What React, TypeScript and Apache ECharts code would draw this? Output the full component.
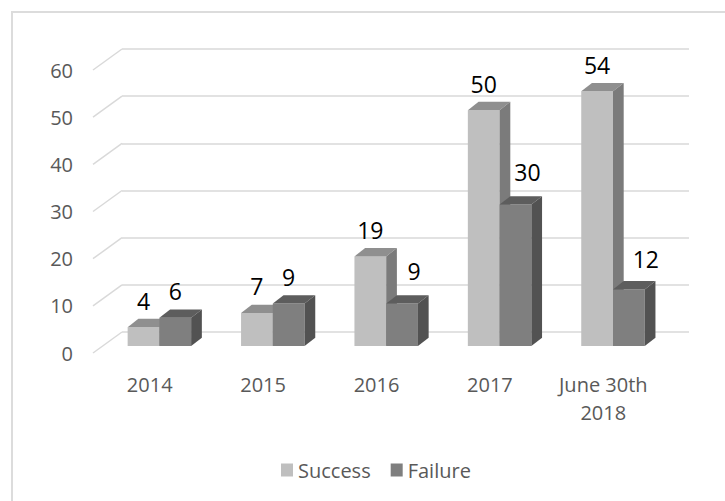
import React, { useEffect, useRef } from "react";
import * as echarts from "echarts";

// ---- data ----
const categories = ["2014", "2015", "2016", "2017", "June 30th\n2018"];
const success = [4, 7, 19, 50, 54];
const failure = [6, 9, 9, 30, 12];
const yTicks = [0, 10, 20, 30, 40, 50, 60];
const seriesNames = ["Success", "Failure"];

// ---- style (label nudges in px, not data) ----
const failureLabelNudge = [
  [0, 0],
  [0, 0],
  [12, -6.5],
  [12, -6.5],
  [17, -3.5],
];
const noNudge = [
  [0, 0],
  [0, 0],
  [0, 0],
  [0, 0],
  [0, 0],
];

const FONT = "'Open Sans', 'Noto Sans', sans-serif";
const AXIS_COLOR = "#595959";
const GRID_COLOR = "#d9d9d9";
// floor depth vector (back -> front)
const DX = -29;
const DY = 21;
// bar front-face offset from back plane
const FX = -19.3;
const FY = 14;
// bar depth (front -> back)
const BDX = 10.7;
const BDY = -8.3;
const BAR_FRAC = 0.28;

const faces = {
  success: { front: "#bfbfbf", top: "#8f8f8f", side: "#7b7b7b" },
  failure: { front: "#7f7f7f", top: "#5d5d5d", side: "#525252" },
};

function makeBarRender(isFail: boolean, f: any, nudges: number[][]) {
  return (params: any, api: any) => {
    const i = api.value(0);
    const v = api.value(1);
    const top = api.coord([i, v]);
    const base = api.coord([i, 0]);
    const band = api.size([1, 0])[0];
    const w = band * BAR_FRAC;
    const x0 = top[0] + FX + (isFail ? 0 : -w);
    const yT = top[1] + FY;
    const yB = base[1] + FY;
    const n = nudges[params.dataIndex] || [0, 0];
    return {
      type: "group",
      children: [
        {
          type: "rect",
          shape: { x: x0, y: yT, width: w, height: yB - yT },
          style: { fill: f.front },
        },
        {
          type: "polygon",
          shape: {
            points: [
              [x0, yT],
              [x0 + w, yT],
              [x0 + w + BDX, yT + BDY],
              [x0 + BDX, yT + BDY],
            ],
          },
          style: { fill: f.top },
        },
        {
          type: "polygon",
          shape: {
            points: [
              [x0 + w, yT],
              [x0 + w + BDX, yT + BDY],
              [x0 + w + BDX, yB + BDY],
              [x0 + w, yB],
            ],
          },
          style: { fill: f.side },
        },
        {
          type: "text",
          style: {
            text: String(v),
            x: x0 + w / 2 + n[0],
            y: yT - 26.5 + n[1],
            align: "center",
            verticalAlign: "middle",
            fontSize: 23,
            fontFamily: FONT,
            fill: "#000000",
          },
        },
      ],
    };
  };
}

function frameRender(params: any, api: any) {
  const v = api.value(1);
  const p = api.coord([0, v]);
  const band = api.size([1, 0])[0];
  const left = p[0] - band / 2;
  return {
    type: "group",
    children: [
      {
        type: "line",
        shape: { x1: left + DX, y1: p[1] + DY, x2: left, y2: p[1] },
        style: { stroke: GRID_COLOR, lineWidth: 1.5 },
      },
      {
        type: "text",
        style: {
          text: String(v),
          x: left + DX - 20,
          y: p[1] + DY,
          align: "right",
          verticalAlign: "middle",
          fontSize: 20,
          fontFamily: FONT,
          fill: AXIS_COLOR,
        },
      },
    ],
  };
}

export default function App() {
  const ref = useRef<HTMLDivElement>(null);
  useEffect(() => {
    if (!ref.current) return;
    const chart = echarts.init(ref.current, null, { renderer: "svg" });
    chart.setOption({
      animation: false,
      backgroundColor: "#ffffff",
      grid: { left: 122, right: 36, top: 49, bottom: 169 },
      xAxis: {
        type: "category",
        data: categories,
        axisLine: { show: false },
        axisTick: { show: false },
        splitLine: { show: false },
        axisLabel: {
          interval: 0,
          margin: 38,
          lineHeight: 28,
          padding: [0, 58, 0, 0],
          fontSize: 20,
          fontFamily: FONT,
          color: AXIS_COLOR,
        },
      },
      yAxis: {
        type: "value",
        min: 0,
        max: 60,
        interval: 10,
        axisLine: { show: false },
        axisTick: { show: false },
        axisLabel: { show: false },
        splitLine: { show: true, lineStyle: { color: GRID_COLOR, width: 1.5 } },
      },
      legend: {
        data: seriesNames,
        left: 281,
        top: 460,
        icon: "rect",
        itemWidth: 12,
        itemHeight: 13,
        itemGap: 20,
        padding: 0,
        textStyle: { fontSize: 20, fontFamily: FONT, color: AXIS_COLOR },
      },
      graphic: [
        {
          type: "rect",
          shape: { x: 12, y: 12, width: 800, height: 600 },
          style: { fill: "none", stroke: "#dcdcdc", lineWidth: 2 },
          silent: true,
        },
      ],
      series: [
        {
          type: "custom",
          name: "frame",
          data: yTicks.map((v) => [0, v]),
          renderItem: frameRender,
          clip: false,
          silent: true,
          z: 1,
        },
        {
          type: "custom",
          name: seriesNames[0],
          data: success.map((v, i) => [i, v]),
          encode: { x: 0, y: 1 },
          itemStyle: { color: faces.success.front },
          renderItem: makeBarRender(false, faces.success, noNudge),
          clip: false,
          z: 2,
        },
        {
          type: "custom",
          name: seriesNames[1],
          data: failure.map((v, i) => [i, v]),
          encode: { x: 0, y: 1 },
          itemStyle: { color: faces.failure.front },
          renderItem: makeBarRender(true, faces.failure, failureLabelNudge),
          clip: false,
          z: 3,
        },
      ],
    });
    return () => chart.dispose();
  }, []);
  return (
    <div
      ref={ref}
      style={{ position: "fixed", left: 0, top: 0, width: 725, height: 501 }}
    />
  );
}
